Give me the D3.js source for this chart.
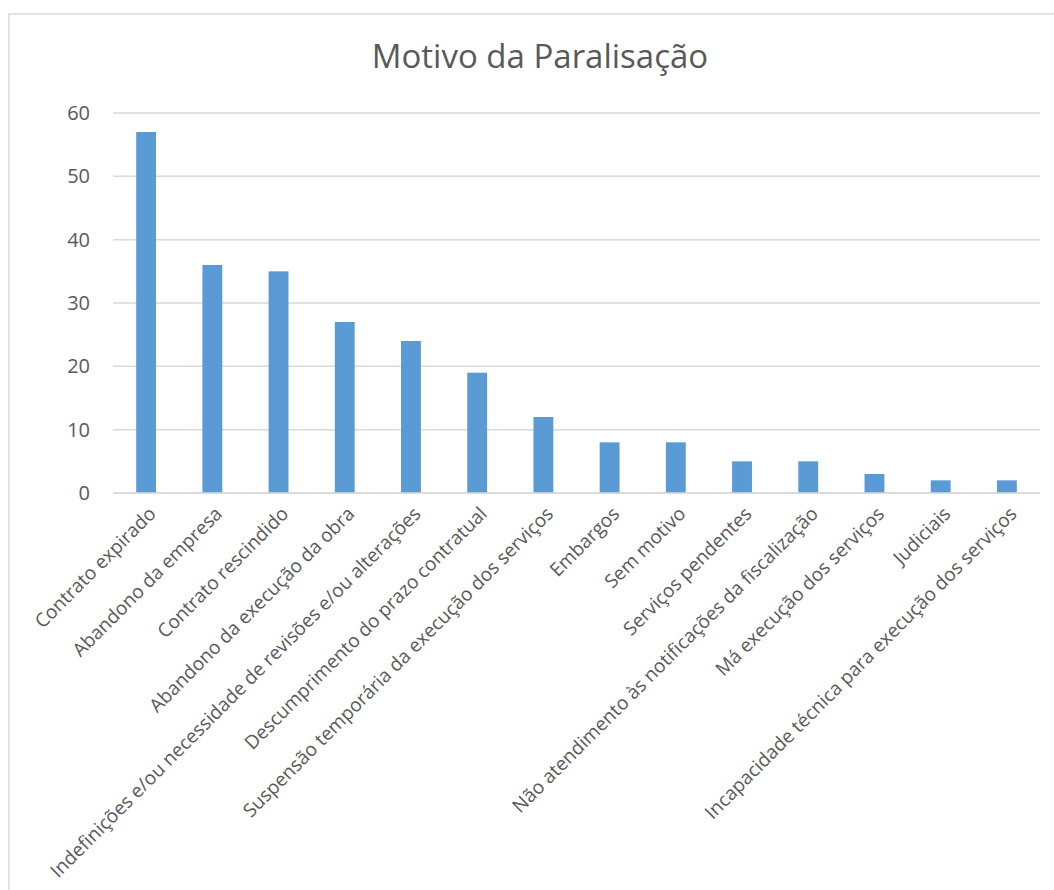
<!DOCTYPE html>
<html>
<head>
<meta charset="utf-8">
<script src="https://cdn.jsdelivr.net/npm/d3@7"></script>
<style>
  body { margin: 0; background: #fff; }
  text { font-family: "Open Sans", sans-serif; fill: #595959; }
</style>
</head>
<body>
<div id="chart"></div>
<script>
// chart data
var categories = [
    "Contrato expirado",
    "Abandono da empresa",
    "Contrato rescindido",
    "Abandono da execução da obra",
    "Indefinições e/ou necessidade de revisões e/ou alterações",
    "Descumprimento do prazo contratual",
    "Suspensão temporária da execução dos serviços",
    "Embargos",
    "Sem motivo",
    "Serviços pendentes",
    "Não atendimento às notificações da fiscalização",
    "Má execução dos serviços",
    "Judiciais",
    "Incapacidade técnica para execução dos serviços"
];
var values = [57, 36, 35, 27, 24, 19, 12, 8, 8, 5, 5, 3, 2, 2];
var tickValues = [0, 10, 20, 30, 40, 50, 60];
var title = "Motivo da Paralisação";

var W = 1054, H = 890;
var margin = {top: 113, right: 14, bottom: 397, left: 113};
var width = W - margin.left - margin.right,
    height = H - margin.top - margin.bottom;

var svg = d3.select("#chart").append("svg")
    .attr("width", W)
    .attr("height", H);

// outer chart border
svg.append("rect")
    .attr("x", 9).attr("y", 14)
    .attr("width", W).attr("height", H)
    .attr("fill", "none")
    .attr("stroke", "#d9d9d9")
    .attr("stroke-width", 1.5);

svg.append("text")
    .attr("x", 540)
    .attr("y", 68)
    .attr("text-anchor", "middle")
    .style("font-size", "33px")
    .text(title);

var g = svg.append("g")
    .attr("transform", "translate(" + margin.left + "," + margin.top + ")");

var x = d3.scaleBand().domain(categories).range([0, width]).padding(0);
var y = d3.scaleLinear().domain([0, 60]).range([height, 0]);

// gridlines
g.selectAll(".grid")
    .data(tickValues)
    .enter().append("line")
    .attr("class", "grid")
    .attr("x1", 0).attr("x2", width)
    .attr("y1", d => y(d)).attr("y2", d => y(d))
    .attr("stroke", "#d9d9d9")
    .attr("stroke-width", 1.5);

// y axis labels
var yAxis = d3.axisLeft(y).tickValues(tickValues).tickSize(0).tickPadding(23);
g.append("g")
    .attr("class", "y axis")
    .call(yAxis)
    .call(s => s.select(".domain").remove())
    .selectAll("text")
    .style("font-size", "20px")
    .style("font-family", "'Open Sans', sans-serif")
    .attr("fill", "#595959");

// bars
var barW = x.bandwidth() * 0.3;
g.selectAll(".bar")
    .data(values)
    .enter().append("rect")
    .attr("class", "bar")
    .attr("x", (d, i) => x(categories[i]) + (x.bandwidth() - barW) / 2)
    .attr("y", d => y(d))
    .attr("width", barW)
    .attr("height", d => height - y(d))
    .attr("fill", "#5b9bd5");

// x axis
var xAxis = d3.axisBottom(x).tickSize(0).tickPadding(0);
g.append("g")
    .attr("class", "x axis")
    .attr("transform", "translate(0," + height + ")")
    .call(xAxis)
    .call(s => s.select(".domain").remove())
    .selectAll("text")
    .style("font-size", "19px")
    .style("font-family", "'Open Sans', sans-serif")
    .attr("fill", "#595959")
    .attr("text-anchor", "end")
    .attr("dy", "0")
    .attr("transform", "translate(11,22) rotate(-45)");

// zero axis line on top
g.append("line")
    .attr("x1", 0).attr("x2", width)
    .attr("y1", y(0)).attr("y2", y(0))
    .attr("stroke", "#d9d9d9")
    .attr("stroke-width", 1.5);
</script>
</body>
</html>
